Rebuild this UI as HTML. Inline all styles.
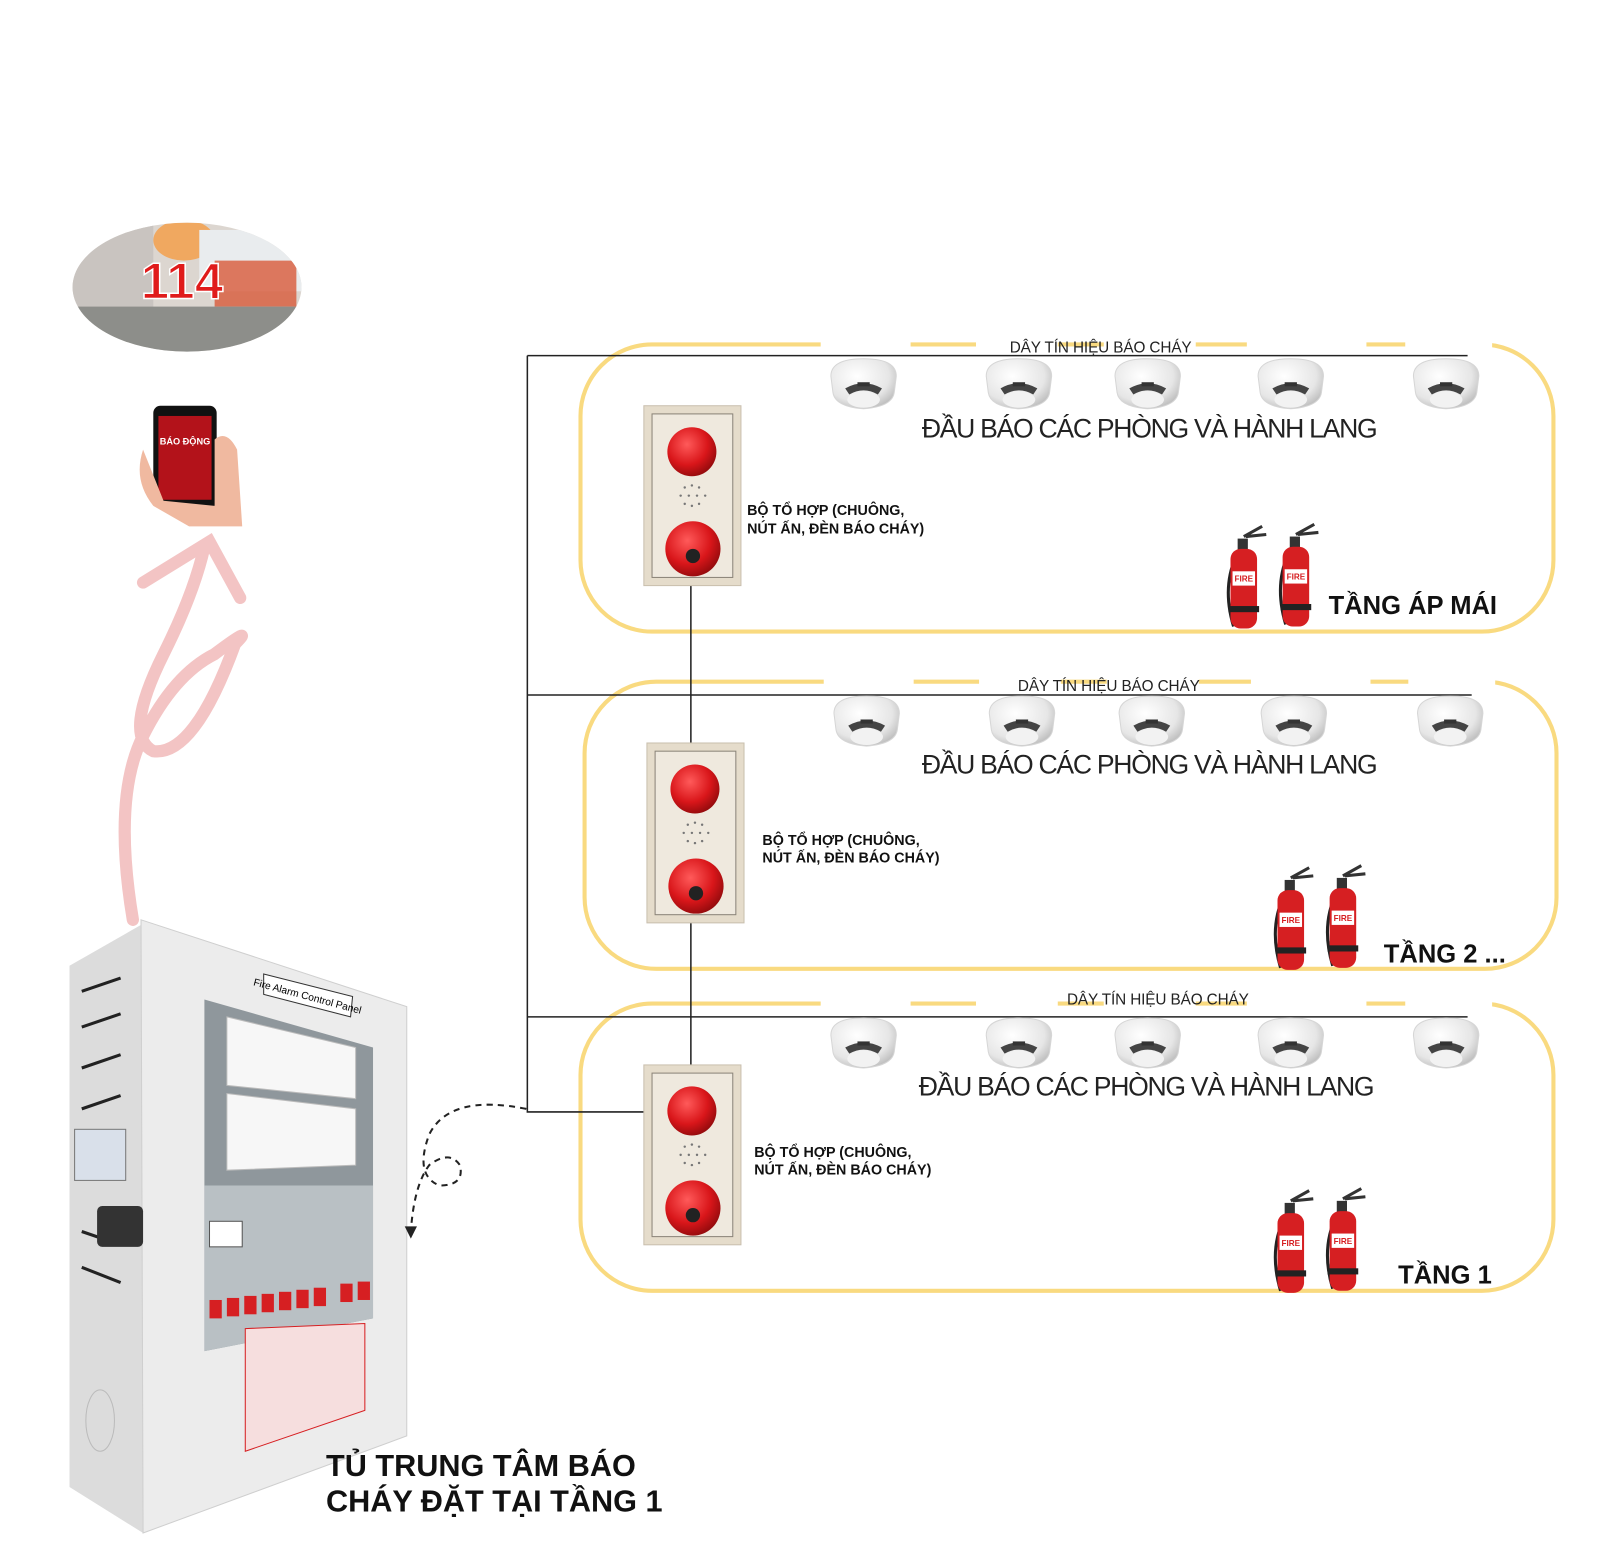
<!DOCTYPE html>
<html><head><meta charset="utf-8"><style>
html,body{margin:0;padding:0;background:#fff}
svg{display:block}
text{font-family:"Liberation Sans",sans-serif}
</style></head><body>
<svg width="1600" height="1548" viewBox="0 0 1600 1548" xmlns="http://www.w3.org/2000/svg">
<defs>
<radialGradient id="det" cx="0.4" cy="0.35" r="0.7"><stop offset="0" stop-color="#fff"/><stop offset="0.7" stop-color="#e6e6e6"/><stop offset="1" stop-color="#bdbdbd"/></radialGradient>
<radialGradient id="red" cx="0.4" cy="0.35" r="0.7"><stop offset="0" stop-color="#ff5a5a"/><stop offset="0.6" stop-color="#d9161a"/><stop offset="1" stop-color="#8e0a0c"/></radialGradient>
<clipPath id="ov"><ellipse cx="183" cy="281" rx="112" ry="63"/></clipPath>
<g id="detector">
<path d="M-32 -8 Q-32 -25 0 -25 Q32 -25 32 -8 L30 8 Q28 22 0 24 Q-28 22 -30 8Z" fill="url(#det)" stroke="#d6d6d6"/>
<path d="M-18 4 Q0 -6 18 4 L14 10 Q0 2 -14 10Z" fill="#444"/>
<rect x="-6" y="-2" width="12" height="4" fill="#333"/>
<ellipse cx="0" cy="15" rx="16" ry="8" fill="#f2f2f2"/>
</g>
<g id="combo">
<rect x="0" y="0" width="95" height="176" fill="#e5dccb" stroke="#c9bfae"/>
<rect x="8" y="8" width="79" height="160" fill="#efe9de" stroke="#8a8378"/>
<circle cx="47" cy="45" r="24" fill="url(#red)"/>
<g fill="#777"><circle cx="40" cy="80" r="1.2"/><circle cx="47" cy="78" r="1.2"/><circle cx="54" cy="80" r="1.2"/><circle cx="36" cy="88" r="1.2"/><circle cx="44" cy="88" r="1.2"/><circle cx="52" cy="88" r="1.2"/><circle cx="60" cy="88" r="1.2"/><circle cx="40" cy="96" r="1.2"/><circle cx="47" cy="98" r="1.2"/><circle cx="54" cy="96" r="1.2"/></g>
<circle cx="48" cy="140" r="27" fill="url(#red)"/>
<circle cx="48" cy="147" r="7" fill="#222"/>
</g>
<g id="ext">
<path d="M22 12 L40 2 M24 12 L44 10" stroke="#333" stroke-width="3" fill="none"/>
<path d="M12 100 Q0 60 16 28 L24 22" stroke="#222" stroke-width="3" fill="none"/>
<rect x="16" y="14" width="10" height="12" fill="#333"/>
<rect x="9" y="24" width="26" height="78" rx="10" fill="#d61f22"/>
<rect x="11" y="46" width="22" height="14" fill="#fff"/>
<text x="22" y="56" font-size="8" fill="#d61f22" text-anchor="middle" font-weight="bold">FIRE</text>
<rect x="7" y="80" width="30" height="6" fill="#222"/>
</g>
</defs>
<g transform="scale(1.022)">
<g clip-path="url(#ov)">
<rect x="60" y="210" width="250" height="140" fill="#dcd6d0"/>
<rect x="60" y="210" width="90" height="100" fill="#c9c4c0"/>
<ellipse cx="180" cy="235" rx="30" ry="20" fill="#f0a860"/>
<rect x="195" y="225" width="100" height="60" fill="#e9ecee"/>
<rect x="210" y="255" width="80" height="45" fill="#d85a3a" opacity="0.8"/>
<rect x="60" y="300" width="250" height="50" fill="#8d8e8a"/>
</g>
<text x="178" y="292" font-size="50" font-weight="bold" fill="#e01b1b" stroke="#fff" stroke-width="1.5" text-anchor="middle">114</text>

<rect x="150" y="397" width="62" height="100" rx="7" fill="#111"/>
<rect x="155" y="407" width="52" height="82" fill="#b3121a"/>
<text x="181" y="435" font-size="9" fill="#fff" text-anchor="middle" font-weight="bold">BÁO ĐỘNG</text>
<path d="M140 440 Q130 470 150 495 L185 515 L237 515 L232 440 Q222 420 210 430 L210 495 L160 490 Z" fill="#f0b9a0"/>

<path d="M130 900 Q110 780 140 720 Q170 660 210 640 Q250 610 230 630 Q190 740 150 735 Q120 720 160 640 Q190 580 200 535" stroke="#f3c4c4" stroke-width="12" fill="none" stroke-linecap="round"/>
<path d="M140 570 L205 530 L235 585" stroke="#f3c4c4" stroke-width="12" fill="none" stroke-linecap="round"/>

<polygon points="68,945 138,905 140,1500 68,1455" fill="#dcdcdc"/>
<polygon points="138,900 398,985 398,1405 140,1500" fill="#ececec" stroke="#cfcfcf"/>
<polygon points="200,978 365,1025 365,1290 200,1322" fill="#8f979c"/>
<g fill="#f7f7f7" stroke="#bbb">
<polygon points="222,995 348,1025 348,1075 222,1062"/>
<polygon points="222,1070 348,1085 348,1140 222,1145"/>
</g>
<polygon points="200,1160 365,1160 365,1290 200,1322" fill="#b9c0c4"/>
<g fill="#d61f22"><rect x="205" y="1272" width="12" height="18"/><rect x="222" y="1270" width="12" height="18"/><rect x="239" y="1268" width="12" height="18"/><rect x="256" y="1266" width="12" height="18"/><rect x="273" y="1264" width="12" height="18"/><rect x="290" y="1262" width="12" height="18"/><rect x="307" y="1260" width="12" height="18"/><rect x="333" y="1256" width="12" height="18"/><rect x="350" y="1254" width="12" height="18"/></g>
<rect x="205" y="1195" width="32" height="25" fill="#fff" stroke="#555"/>
<polygon points="240,1300 357,1295 357,1380 240,1420" fill="#f6dede" stroke="#d61f22"/>
<g stroke="#222" stroke-width="3"><line x1="80" y1="970" x2="118" y2="957"/><line x1="80" y1="1005" x2="118" y2="992"/><line x1="80" y1="1045" x2="118" y2="1032"/><line x1="80" y1="1085" x2="118" y2="1072"/><line x1="80" y1="1205" x2="118" y2="1218"/><line x1="80" y1="1240" x2="118" y2="1255"/></g>
<rect x="73" y="1105" width="50" height="50" fill="#d9e0ea" stroke="#777"/>
<rect x="95" y="1180" width="45" height="40" fill="#333" rx="5"/>
<polygon points="258,953 345,975 343,995 258,973" fill="#fff" stroke="#333"/>
<text x="300" y="978" font-size="10" text-anchor="middle" transform="rotate(15 300 978)">Fire Alarm Control Panel</text>
<ellipse cx="98" cy="1390" rx="14" ry="30" fill="none" stroke="#bbb"/>

<path d="M515 1085 Q440 1070 420 1110 Q405 1150 430 1160 Q455 1160 450 1140 Q440 1125 420 1140 Q405 1160 402 1205" stroke="#222" stroke-width="2" stroke-dasharray="6,5" fill="none"/>
<polygon points="396,1200 408,1200 402,1212" fill="#222"/>

<g fill="none" stroke="#f9da80" stroke-width="4">
<rect x="568" y="337" width="952" height="281" rx="70"/>
<rect x="572" y="667" width="951" height="281" rx="70"/>
<rect x="568" y="982" width="952" height="281" rx="70"/>
</g>
<g fill="#fff">
<rect x="803" y="330" width="88" height="90"/><rect x="955" y="330" width="80" height="90"/><rect x="1080" y="330" width="90" height="90"/><rect x="1220" y="330" width="117" height="90"/><rect x="1375" y="330" width="85" height="90"/>
<rect x="806" y="660" width="88" height="90"/><rect x="958" y="660" width="80" height="90"/><rect x="1083" y="660" width="90" height="90"/><rect x="1224" y="660" width="117" height="90"/><rect x="1378" y="660" width="85" height="90"/>
<rect x="803" y="975" width="88" height="90"/><rect x="955" y="975" width="80" height="90"/><rect x="1080" y="975" width="90" height="90"/><rect x="1220" y="975" width="117" height="90"/><rect x="1375" y="975" width="85" height="90"/>
</g>

<g stroke="#222" stroke-width="1.5" fill="none">
<line x1="516" y1="348" x2="1436" y2="348"/>
<line x1="516" y1="680" x2="1440" y2="680"/>
<line x1="516" y1="995" x2="1436" y2="995"/>
<polyline points="516,348 516,1088 630,1088"/>
<line x1="676" y1="573" x2="676" y2="1042"/>
</g>

<g font-size="15" fill="#222">
<text x="1077" y="345" text-anchor="middle" textLength="178">DÂY TÍN HIỆU BÁO CHÁY</text>
<text x="1085" y="676" text-anchor="middle" textLength="178">DÂY TÍN HIỆU BÁO CHÁY</text>
<text x="1133" y="983" text-anchor="middle" textLength="178">DÂY TÍN HIỆU BÁO CHÁY</text>
</g>

<use href="#detector" x="845" y="376"/><use href="#detector" x="997" y="376"/><use href="#detector" x="1123" y="376"/><use href="#detector" x="1263" y="376"/><use href="#detector" x="1415" y="376"/>
<use href="#detector" x="848" y="706"/><use href="#detector" x="1000" y="706"/><use href="#detector" x="1127" y="706"/><use href="#detector" x="1266" y="706"/><use href="#detector" x="1419" y="706"/>
<use href="#detector" x="845" y="1021"/><use href="#detector" x="997" y="1021"/><use href="#detector" x="1123" y="1021"/><use href="#detector" x="1263" y="1021"/><use href="#detector" x="1415" y="1021"/>

<g font-size="26" fill="#222">
<text x="902" y="428" textLength="446">ĐẦU BÁO CÁC PHÒNG VÀ HÀNH LANG</text>
<text x="902" y="757" textLength="446">ĐẦU BÁO CÁC PHÒNG VÀ HÀNH LANG</text>
<text x="899" y="1072" textLength="446">ĐẦU BÁO CÁC PHÒNG VÀ HÀNH LANG</text>
</g>

<use href="#combo" x="630" y="397"/><use href="#combo" x="633" y="727"/><use href="#combo" x="630" y="1042"/>

<g font-size="14" font-weight="bold" fill="#111">
<text x="731" y="504">BỘ TỔ HỢP (CHUÔNG,</text><text x="731" y="522">NÚT ẤN, ĐÈN BÁO CHÁY)</text>
<text x="746" y="827">BỘ TỔ HỢP (CHUÔNG,</text><text x="746" y="844">NÚT ẤN, ĐÈN BÁO CHÁY)</text>
<text x="738" y="1132">BỘ TỔ HỢP (CHUÔNG,</text><text x="738" y="1149">NÚT ẤN, ĐÈN BÁO CHÁY)</text>
</g>

<use href="#ext" x="1195" y="513"/><use href="#ext" x="1246" y="511"/>
<use href="#ext" x="1241" y="847"/><use href="#ext" x="1292" y="845"/>
<use href="#ext" x="1241" y="1163"/><use href="#ext" x="1292" y="1161"/>

<g font-size="25" font-weight="bold" fill="#111">
<text x="1300" y="601">TẦNG ÁP MÁI</text>
<text x="1354" y="942">TẦNG 2 ...</text>
<text x="1368" y="1256">TẦNG 1</text>
<text x="319" y="1444" font-size="30">TỦ TRUNG TÂM BÁO</text>
<text x="319" y="1479" font-size="30">CHÁY ĐẶT TẠI TẦNG 1</text>
</g>
</g>
</svg>
</body></html>
